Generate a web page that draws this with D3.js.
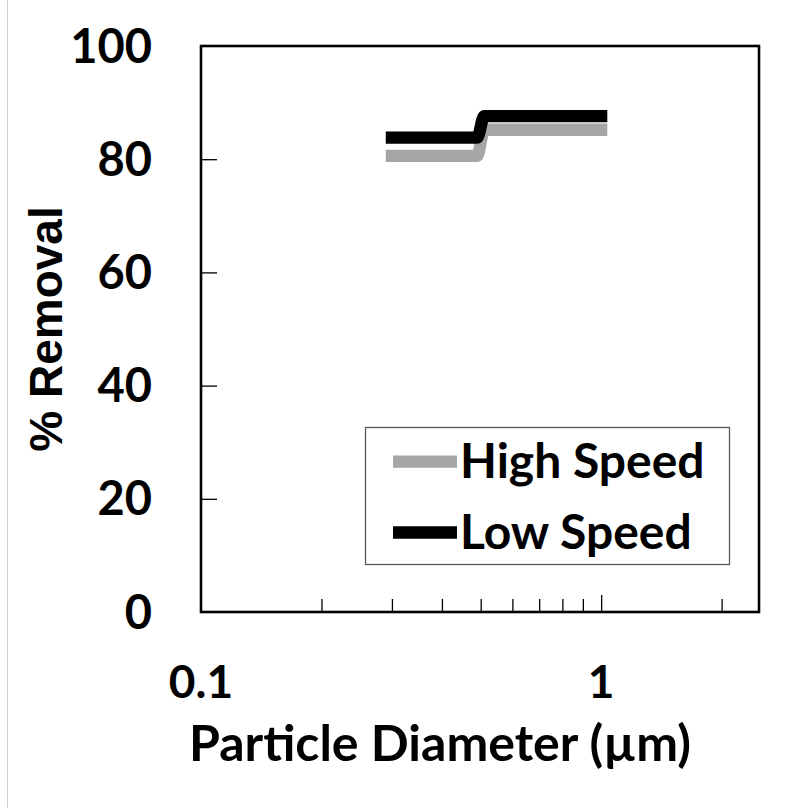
<!DOCTYPE html>
<html>
<head>
<meta charset="utf-8">
<script src="https://cdn.jsdelivr.net/npm/d3@7"></script>
<style>
    body { margin: 0; background: #fff; }
    .lbl { font-family: Lato, "Open Sans", sans-serif; font-weight: bold; fill: #000; }
</style>
</head>
<body>
<svg id="chart" width="799" height="808"></svg>
<script>
var diameters = [0.3, 0.49, 0.51, 1],
    highSpeed = [80.6, 80.6, 85.2, 85.2],
    lowSpeed = [83.8, 83.8, 87.6, 87.6],
    seriesNames = ["High Speed", "Low Speed"],
    seriesColors = ["#a6a6a6", "#000000"],
    yTicks = [0, 20, 40, 60, 80, 100],
    xLabels = [0.1, 1],
    xMinor = [0.2, 0.3, 0.4, 0.5, 0.6, 0.7, 0.8, 0.9, 2];

(function () {
    var svg = d3.select("#chart"),
        left = 201, right = 759, top = 46, bottom = 612,
        x, y, line, series;

    x = d3.scaleLog().domain([0.1, 2.48]).range([left, right]);
    y = d3.scaleLinear().domain([0, 100]).range([bottom, top]);

    // faint edge of the original picture
    svg.append("line")
        .attr("x1", 7.5).attr("x2", 7.5)
        .attr("y1", 0).attr("y2", 808)
        .attr("stroke", "#d0d0d0");

    // y ticks (inside)
    svg.append("g")
        .attr("transform", "translate(" + left + ",0)")
        .call(d3.axisRight(y).tickValues(yTicks.slice(1, -1)).tickSize(16).tickFormat(""))
        .call(function (g) {
            g.select(".domain").remove();
            g.selectAll("line").attr("stroke", "#000").attr("stroke-width", 1.3);
        });

    // x minor and major ticks (inside)
    svg.append("g")
        .attr("transform", "translate(0," + bottom + ")")
        .call(d3.axisTop(x).tickValues(xMinor).tickSize(13).tickFormat(""))
        .call(function (g) {
            g.select(".domain").remove();
            g.selectAll("line").attr("stroke", "#000").attr("stroke-width", 1.3);
        });
    svg.append("g")
        .attr("transform", "translate(0," + bottom + ")")
        .call(d3.axisTop(x).tickValues([1]).tickSize(17).tickFormat(""))
        .call(function (g) {
            g.select(".domain").remove();
            g.selectAll("line").attr("stroke", "#000").attr("stroke-width", 1.3);
        });

    // frame
    svg.append("rect")
        .attr("x", left).attr("y", top)
        .attr("width", right - left).attr("height", bottom - top)
        .attr("fill", "none")
        .attr("stroke", "#000")
        .attr("stroke-width", 2.6);

    // tick labels
    svg.selectAll(".ylbl")
        .data(yTicks)
        .enter()
        .append("text")
        .attr("class", "lbl ylbl")
        .attr("x", 152)
        .attr("y", function (d) { return y(d) + 16.5; })
        .attr("text-anchor", "end")
        .style("font-size", "47px")
        .text(function (d) { return d; });

    svg.selectAll(".xlbl")
        .data(xLabels)
        .enter()
        .append("text")
        .attr("class", "lbl xlbl")
        .attr("x", function (d) { return x(d); })
        .attr("y", 698)
        .attr("text-anchor", "middle")
        .style("font-size", "46px")
        .text(function (d) { return d; });

    // axis titles
    svg.append("text")
        .attr("class", "lbl")
        .attr("x", 440)
        .attr("y", 761)
        .attr("text-anchor", "middle")
        .style("font-size", "50px")
        .text("Particle Diameter (\u00b5m)");

    svg.append("text")
        .attr("transform", "translate(62,329) rotate(-90)")
        .attr("text-anchor", "middle")
        .style("font-family", "'Liberation Sans', Arial, sans-serif")
        .style("font-weight", "bold")
        .style("font-size", "46px")
        .text("% Removal");

    // series
    series = [highSpeed, lowSpeed];
    line = d3.line()
        .x(function (d, i) { return x(diameters[i]); })
        .y(function (d) { return y(d); })
        .curve(d3.curveMonotoneX);

    svg.selectAll(".series")
        .data(series)
        .enter()
        .append("path")
        .attr("class", "series")
        .attr("d", line)
        .attr("fill", "none")
        .attr("stroke", function (d, i) { return seriesColors[i]; })
        .attr("stroke-width", 12.3)
        .attr("stroke-linecap", "square")
        .attr("stroke-linejoin", "round");

    // legend
    var legend = svg.append("g");
    legend.append("rect")
        .attr("x", 365.5).attr("y", 427.5)
        .attr("width", 364).attr("height", 137)
        .attr("fill", "#fff")
        .attr("stroke", "#595959")
        .attr("stroke-width", 1.3);

    var items = legend.selectAll(".item")
        .data(seriesNames)
        .enter()
        .append("g")
        .attr("class", "item")
        .attr("transform", function (d, i) { return "translate(0," + (461.7 + i * 70.8) + ")"; });

    items.append("line")
        .attr("x1", 393).attr("x2", 457)
        .attr("stroke", function (d, i) { return seriesColors[i]; })
        .attr("stroke-width", 12.3);

    items.append("text")
        .attr("class", "lbl")
        .attr("x", 460)
        .attr("y", 16.5)
        .style("font-size", "48px")
        .text(function (d) { return d; });
})();
</script>
</body>
</html>
